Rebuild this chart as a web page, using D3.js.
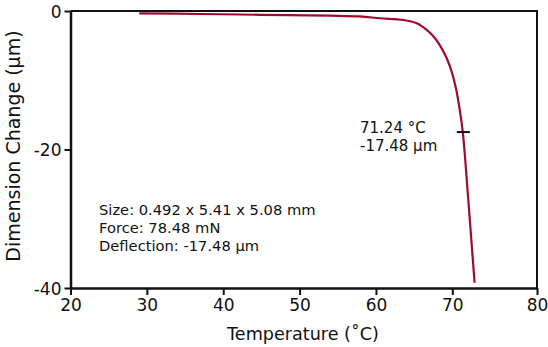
<!DOCTYPE html>
<html>
<head>
<meta charset="utf-8">
<script src="https://cdn.jsdelivr.net/npm/d3@7"></script>
<style>
  html, body { margin: 0; padding: 0; background: #fff; }
  svg { display: block; font-family: "DejaVu Sans", sans-serif; }
</style>
</head>
<body>
<svg id="chart" width="548" height="347"></svg>
<script>
// Dimension change of the specimen versus temperature
const temperature = [29.0, 36.96, 44.82, 53.98, 57.91, 60.53, 63.58, 65.34, 66.65, 67.74,
                     68.61, 69.27, 69.92, 70.43, 70.91, 71.24, 71.89, 72.63];
const dimensionChange = [-0.33, -0.43, -0.55, -0.68, -0.79, -1.05, -1.30, -1.78, -2.74, -3.94,
                         -5.39, -6.83, -8.77, -11.16, -14.54, -17.48, -27.29, -39.24];

const xTicks = [20, 30, 40, 50, 60, 70, 80];
const yTicks = [0, -20, -40];

// Marked point on the curve
const markerT = 71.24;
const markerD = -17.48;

const infoLines = ["Size: 0.492 x 5.41 x 5.08 mm", "Force: 78.48 mN", "Deflection: -17.48 µm"];
const markerLines = [markerT.toFixed(2) + " °C", markerD.toFixed(2) + " µm"];

const plot = { left: 70.5, right: 537, top: 11, bottom: 288 };
const svg = d3.select("#chart");

const x = d3.scaleLinear().domain([20, 70, 80]).range([plot.left, 452.3, plot.right]);
const y = d3.scaleLinear().domain([0, -40]).range([plot.top, plot.bottom]);

const curveColor = "#9e0b2f";
const ink = "#111";

// frame (top and right edges)
svg.append("path")
  .attr("d", `M${plot.left},${plot.top}H${plot.right}V${plot.bottom}`)
  .attr("fill", "none").attr("stroke", ink).attr("stroke-width", 2);

// axes
const plain = d => String(d);
const xAxis = svg.append("g")
  .attr("transform", `translate(0,${plot.bottom})`)
  .call(d3.axisBottom(x).tickValues(xTicks).tickSize(7).tickSizeOuter(0).tickPadding(4).tickFormat(plain));
const yAxis = svg.append("g")
  .attr("transform", `translate(${plot.left},0)`)
  .call(d3.axisLeft(y).tickValues(yTicks).tickSize(6).tickSizeOuter(0).tickPadding(3).tickFormat(plain));

[xAxis, yAxis].forEach(g => {
  g.select(".domain").attr("stroke", ink).attr("stroke-width", 2.5);
  g.selectAll(".tick line").attr("stroke", ink).attr("stroke-width", 2);
  g.selectAll(".tick text").attr("fill", ink).attr("font-size", 17)
    .attr("font-family", "DejaVu Sans, sans-serif");
});
yAxis.selectAll(".tick text").attr("dy", "0.36em");

// curve
const line = d3.line()
  .x((d, i) => x(temperature[i]))
  .y(d => y(d))
  .curve(d3.curveCatmullRom.alpha(0.5));
svg.append("path")
  .datum(dimensionChange)
  .attr("d", line)
  .attr("fill", "none")
  .attr("stroke", curveColor)
  .attr("stroke-width", 2.2);

// marker tick
svg.append("line")
  .attr("x1", x(markerT) - 6).attr("x2", x(markerT) + 7)
  .attr("y1", y(markerD)).attr("y2", y(markerD))
  .attr("stroke", ink).attr("stroke-width", 2);

// marker label
svg.append("g").selectAll("text").data(markerLines).join("text")
  .attr("x", 360).attr("y", (d, i) => 133 + i * 18)
  .attr("font-size", 15).attr("fill", ink)
  .text(d => d);

// specimen info
svg.append("g").selectAll("text").data(infoLines).join("text")
  .attr("x", 99).attr("y", (d, i) => 215 + i * 18)
  .attr("font-size", 14.7).attr("fill", ink)
  .text(d => d);

// axis titles
svg.append("text")
  .attr("x", 303).attr("y", 340)
  .attr("text-anchor", "middle").attr("font-size", 17.6).attr("fill", ink)
  .text("Temperature (˚C)");
svg.append("text")
  .attr("transform", `translate(20,146) rotate(-90)`)
  .attr("text-anchor", "middle").attr("font-size", 19).attr("fill", ink)
  .text("Dimension Change (µm)");
</script>
</body>
</html>
